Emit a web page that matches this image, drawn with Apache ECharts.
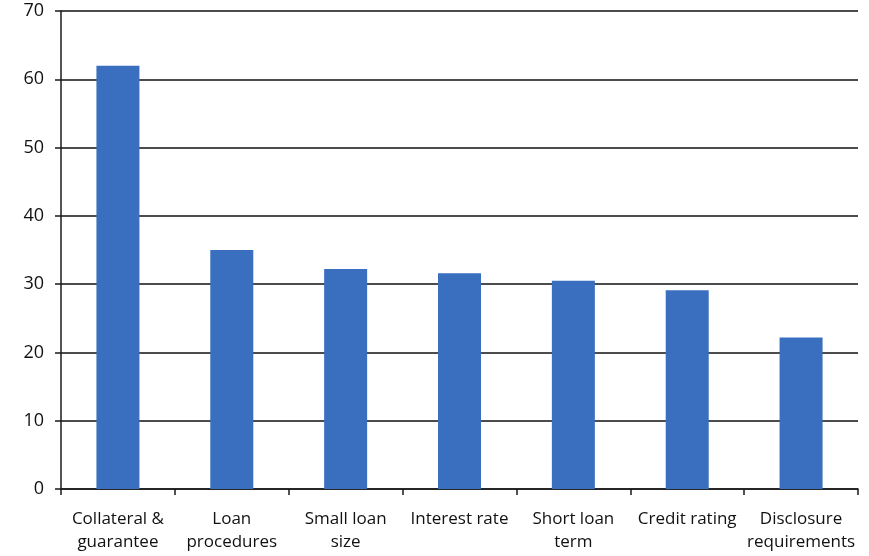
<!DOCTYPE html>
<html>
<head>
<meta charset="utf-8">
<script src="https://cdn.jsdelivr.net/npm/echarts@6/dist/echarts.min.js"></script>
<style>
html,body{margin:0;padding:0;background:#fff;}
#chart{width:869px;height:556px;}
</style>
</head>
<body>
<div id="chart"></div>
<script>
// Constraints on borrowing, share of respondents
const categories = [
  "Collateral &\nguarantee",
  "Loan\nprocedures",
  "Small loan\nsize",
  "Interest rate",
  "Short loan\nterm",
  "Credit rating",
  "Disclosure\nrequirements"
];
const values = [62, 35, 32.2, 31.6, 30.5, 29.1, 22.2];
const yTicks = { min: 0, max: 70, step: 10 };

const chart = echarts.init(document.getElementById('chart'));
const fontFamily = "'Open Sans', 'Liberation Sans', sans-serif";

chart.setOption({
  animation: false,
  backgroundColor: '#ffffff',
  grid: { left: 61, right: 11, top: 11, bottom: 67, containLabel: false },
  xAxis: {
    type: 'category',
    data: categories,
    axisLine: { show: true, lineStyle: { color: '#1a1a1a', width: 1.5 } },
    axisTick: { show: true, alignWithLabel: false, length: 6, lineStyle: { color: '#1a1a1a', width: 1.5 } },
    axisLabel: {
      color: '#111',
      fontFamily: fontFamily,
      fontSize: 17,
      lineHeight: 23,
      margin: 19,
      interval: 0
    }
  },
  yAxis: {
    type: 'value',
    min: yTicks.min,
    max: yTicks.max,
    interval: yTicks.step,
    axisLine: { show: true, lineStyle: { color: '#1a1a1a', width: 1.5 } },
    axisTick: { show: true, length: 6, lineStyle: { color: '#1a1a1a', width: 1.5 } },
    splitLine: { show: true, lineStyle: { color: '#111', width: 1.5 } },
    axisLabel: {
      color: '#111',
      fontFamily: fontFamily,
      fontSize: 18,
      margin: 17
    }
  },
  series: [{
    type: 'bar',
    data: values,
    barWidth: 43,
    itemStyle: { color: '#3a6ebf' }
  }]
});
</script>
</body>
</html>
